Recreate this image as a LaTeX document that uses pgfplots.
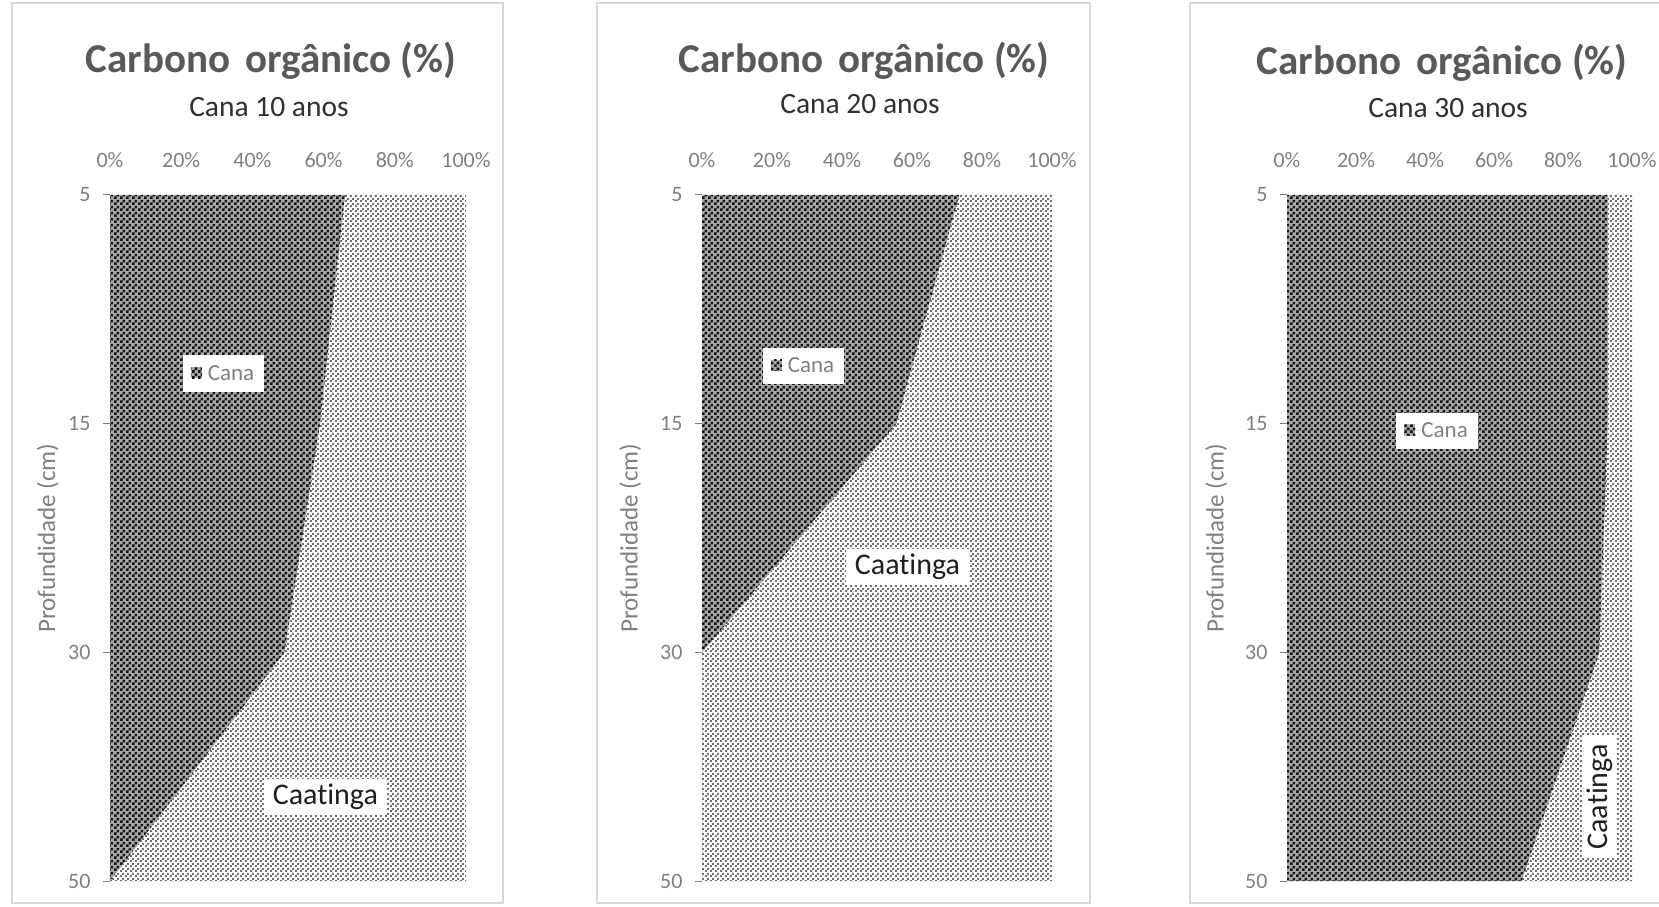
\documentclass[border=0pt]{standalone}
\usepackage{fontspec}
\setmainfont[Ligatures=NoCommon]{Carlito}
\usepackage{pgfplots}
\pgfplotsset{compat=1.18}
\usetikzlibrary{patterns}
\definecolor{titlegray}{HTML}{595959}
\definecolor{subgray}{HTML}{303030}
\definecolor{tickgray}{HTML}{808080}
\definecolor{framegray}{HTML}{D9D9D9}
\definecolor{canabase}{HTML}{A8A8A8}
\definecolor{canadot}{HTML}{161616}
\definecolor{caatdot}{HTML}{707070}
\definecolor{labblack}{HTML}{1F1F1F}

\pgfdeclarepatternformonly{canapat}{\pgfpointorigin}{\pgfpoint{6pt}{6pt}}{\pgfpoint{6pt}{6pt}}{%
  \pgfpathrectangle{\pgfpointorigin}{\pgfpoint{3pt}{3pt}}%
  \pgfpathrectangle{\pgfpoint{3pt}{3pt}}{\pgfpoint{3pt}{3pt}}%
  \pgfusepath{fill}}
\pgfdeclarepatternformonly{caatpat}{\pgfpointorigin}{\pgfpoint{5pt}{5pt}}{\pgfpoint{5pt}{5pt}}{%
  \pgfpathrectangle{\pgfpointorigin}{\pgfpoint{2.2pt}{2.2pt}}%
  \pgfpathrectangle{\pgfpoint{2.5pt}{2.5pt}}{\pgfpoint{2.2pt}{2.2pt}}%
  \pgfusepath{fill}}

\tikzset{
  caatlab/.style={fill=white, text=labblack, font=\fontsize{30}{34}\selectfont, inner xsep=9pt, inner ysep=5pt},
}

\pgfplotsset{
  panel/.style={
    anchor=south west, scale only axis, height=686pt,
    xmin=0, xmax=100, ymin=0, ymax=3, y dir=reverse,
    axis line style={draw=none},
    xtick={0,20,40,60,80,100},
    xticklabels={0\%,20\%,40\%,60\%,80\%,100\%},
    xtick pos=upper, xticklabel pos=upper,
    xtick style={draw=none},
    ytick={0,1,2,3}, yticklabels={5,15,30,50},
    ytick pos=left,
    ytick style={draw=tickgray, line width=1pt},
    tick align=outside, major tick length=7pt,
    tick label style={font=\fontsize{22}{25}\selectfont, text=tickgray},
    xticklabel style={yshift=17pt},
    yticklabel style={xshift=-9pt},
    ylabel={Profundidade (cm)},
    legend style={draw=none, fill=white, font=\fontsize{23}{26}\selectfont, text=tickgray, anchor=center, inner xsep=8pt, inner ysep=8pt},
    legend image code/.code={\path[##1, draw=none] (0pt,-5pt) rectangle (11pt,6pt); \path (0pt,0pt) -- (15pt,0pt);},
    clip=false,
  },
  cana/.style={draw=none, fill=canabase, postaction={pattern=canapat, pattern color=canadot}},
  caat/.style={draw=none, fill=white, postaction={pattern=caatpat, pattern color=caatdot}},
}

\newcommand{\titlefont}{\fontsize{41}{46}\selectfont\bfseries}
\newcommand{\subfont}{\fontsize{29.5}{34}\selectfont}
\newcommand{\ylabfont}{\fontsize{25}{28}\selectfont}

\begin{document}
\begin{tikzpicture}[x=1pt,y=1pt]
\useasboundingbox (0,0) rectangle (1659,907);
\fill[white] (0,0) rectangle (1659,907);
% chart frames
\draw[framegray, line width=1.5pt] (12,4) rectangle (503,904);
\draw[framegray, line width=1.5pt] (597,4) rectangle (1090,904);
\draw[framegray, line width=1.5pt] (1190,4) rectangle (1720,904);

% titles
\node[text=titlegray, font=\titlefont] at (271,846) {Carbono \kern6pt orgânico (\%)};
\node[text=subgray, font=\subfont] at (269,800) {Cana 10 anos};
\node[text=titlegray, font=\titlefont] at (864,846) {Carbono \kern6pt orgânico (\%)};
\node[text=subgray, font=\subfont] at (860,803) {Cana 20 anos};
\node[text=titlegray, font=\titlefont] at (1442,844) {Carbono \kern6pt orgânico (\%)};
\node[text=subgray, font=\subfont] at (1448,799) {Cana 30 anos};

% ---------- Panel 1: Cana 10 anos ----------
\begin{axis}[panel, at={(110pt,26pt)}, width=356pt,
  ylabel style={at={(axis description cs:-0.175,0.5)}, anchor=center, font=\ylabfont, text=tickgray},
  legend style={at={(0.319,0.740)}}]
\addplot[caat, forget plot] coordinates {(66,0) (100,0) (100,3) (0,3) (49,2) (59,1)};
\addplot[cana] coordinates {(0,0) (66,0) (59,1) (49,2) (0,3)};
\addlegendentry{Cana}
\node[caatlab] at (axis cs:60.5,2.632) {Caatinga};
\end{axis}

% ---------- Panel 2: Cana 20 anos ----------
\begin{axis}[panel, at={(702pt,26pt)}, width=350pt,
  ylabel style={at={(axis description cs:-0.205,0.5)}, anchor=center, font=\ylabfont, text=tickgray},
  legend style={at={(0.29,0.751)}}]
\addplot[caat, forget plot] coordinates {(73.5,0) (100,0) (100,3) (0,3) (0,2) (55.5,1)};
\addplot[cana] coordinates {(0,0) (73.5,0) (55.5,1) (0,2) (0,3)};
\addlegendentry{Cana}
\node[caatlab] at (axis cs:58.7,1.627) {Caatinga};
\end{axis}

% ---------- Panel 3: Cana 30 anos ----------
\begin{axis}[panel, at={(1287pt,26pt)}, width=345pt,
  ylabel style={at={(axis description cs:-0.205,0.5)}, anchor=center, font=\ylabfont, text=tickgray},
  legend style={at={(0.435,0.656)}}]
\addplot[caat, forget plot] coordinates {(93,0) (100,0) (100,3) (68,3) (90.5,2) (93,1)};
\addplot[cana] coordinates {(0,0) (93,0) (93,1) (90.5,2) (68,3) (0,3)};
\addlegendentry{Cana}
\node[caatlab, rotate=90] at (axis cs:90.6,2.632) {Caatinga};
\end{axis}
\end{tikzpicture}
\end{document}
